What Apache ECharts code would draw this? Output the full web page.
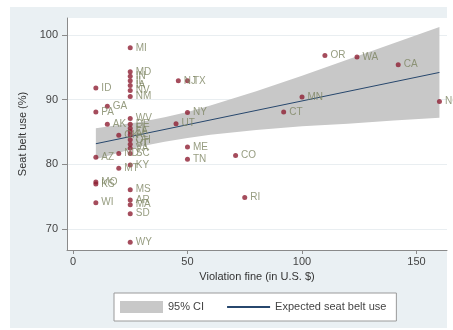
<!DOCTYPE html>
<html><head><meta charset="utf-8">
<script src="https://cdn.jsdelivr.net/npm/echarts@6/dist/echarts.min.js"></script>
<style>html,body{margin:0;padding:0;background:#fff}#c{width:453px;height:330px}</style>
</head><body><div id="c"></div>
<script>
const states  = ['MI','MD','IN','IL','IA','NV','NM','ID','GA','PA','NJ','TX','NY','UT','AK','WV','DE','FL','LA','OK','AL','OH','VT','VA','SC','ND','AZ','ME','TN','KY','MT','MO','KS','MS','AR','MA','WI','SD','WY','CO','RI','MN','CT','OR','WA','CA','NC'];
const fines   = [25,25,25,25,25,25,25,10,15,10,46,50,50,45,15,25,25,25,25,20,25,25,25,25,25,20,10,50,50,25,20,10,10,25,25,25,10,25,25,71,75,100,92,110,124,142,160];
const beltUse = [98.0,94.3,93.6,92.9,92.2,91.4,90.5,91.8,89.0,88.1,92.9,92.9,88.0,86.3,86.2,87.1,86.2,85.6,85.1,84.5,84.6,83.8,83.1,82.5,81.7,81.7,81.1,82.7,80.8,79.9,79.4,77.3,77.0,76.1,74.5,73.8,74.1,72.4,68.0,81.4,74.9,90.4,88.1,96.8,96.6,95.4,89.7];
const fitX = [10,160];
const fitY = [83.2,94.2];
const ciX     = [10,20,30,40,50,60,80,100,120,140,160];
const ciUpper = [85.6,86.1,86.6,87.3,88.1,89.1,91.3,93.7,96.2,98.7,101.2];
const ciLower = [80.8,81.8,82.8,83.5,84.1,84.6,85.3,85.9,86.3,86.8,87.2];
const xTicks = [0,50,100,150];
const yTicks = [70,80,90,100];

const chart = echarts.init(document.getElementById('c'), null, {renderer:'canvas'});
const font = 'Liberation Sans, Arial, sans-serif';
chart.setOption({
  animation:false,
  backgroundColor:'#ffffff',
  graphic:[{type:'rect', z:-100, silent:true, shape:{x:10,y:7,width:437,height:321}, style:{fill:'#eaf0f3'}}],
  grid:{left:67,right:6,top:18,bottom:80,show:true,backgroundColor:'#ffffff',borderWidth:0},
  xAxis:{type:'value',min:-2.6,max:163.3,
    name:'Violation fine (in U.S. $)',nameLocation:'middle',nameGap:16,
    nameTextStyle:{fontSize:11,color:'#333',fontFamily:font},
    axisLine:{show:true,onZero:false,lineStyle:{color:'#8a8a8a',width:1}},
    axisTick:{show:true,length:4,customValues:xTicks,lineStyle:{color:'#8a8a8a'}},
    axisLabel:{customValues:xTicks,margin:6,fontSize:11,color:'#444',fontFamily:font},
    splitLine:{show:false}},
  yAxis:{type:'value',min:66.8,max:102.6,
    name:'Seat belt use (%)',nameLocation:'middle',nameGap:38,
    nameTextStyle:{fontSize:11,color:'#333',fontFamily:font},
    axisLine:{show:true,onZero:false,lineStyle:{color:'#8a8a8a',width:1}},
    axisTick:{show:true,length:5,customValues:yTicks,lineStyle:{color:'#8a8a8a'}},
    axisLabel:{customValues:yTicks,margin:9,fontSize:11,color:'#444',fontFamily:font},
    splitLine:{show:true,lineStyle:{color:'#e9eef1',width:1}}},
  legend:{left:114,top:293,orient:'horizontal',
    backgroundColor:'#ffffff',borderColor:'#9a9a9a',borderWidth:1,borderRadius:0,
    padding:[8,10,8,6],itemWidth:43,itemHeight:12,itemGap:22,
    textStyle:{fontSize:11,color:'#444',fontFamily:font},
    data:[{name:'95% CI',icon:'rect'},{name:'Expected seat belt use',itemStyle:{opacity:0}}]},
  series:[
    {type:'custom',name:'95% CI',silent:true,z:1,
     itemStyle:{color:'#c8c8c8'},
     data:ciX.map((x,i)=>[x,ciLower[i],ciUpper[i]]),
     encode:{x:0,y:[1,2]},
     renderItem:function(params,api){
       if(params.dataIndex!==0) return null;
       const pts=[];
       for(let i=0;i<ciX.length;i++) pts.push(api.coord([ciX[i],ciUpper[i]]));
       for(let i=ciX.length-1;i>=0;i--) pts.push(api.coord([ciX[i],ciLower[i]]));
       return {type:'polygon',shape:{points:pts},style:{fill:'#c8c8c8'}};
     }},
    {type:'line',name:'Expected seat belt use',z:2,symbol:'none',silent:true,
     data:fitX.map((x,i)=>[x,fitY[i]]),
     lineStyle:{color:'#27476d',width:1},itemStyle:{color:'#27476d'}},
    {type:'scatter',name:'states',z:3,symbol:'circle',symbolSize:5,
     itemStyle:{color:'#8e1f33'},
     data:states.map((s,i)=>({name:s,value:[fines[i],beltUse[i]]})),
     label:{show:true,position:'right',distance:3,formatter:'{b}',fontSize:10,color:'#7d8462',fontFamily:font}}
  ]
});
</script></body></html>
